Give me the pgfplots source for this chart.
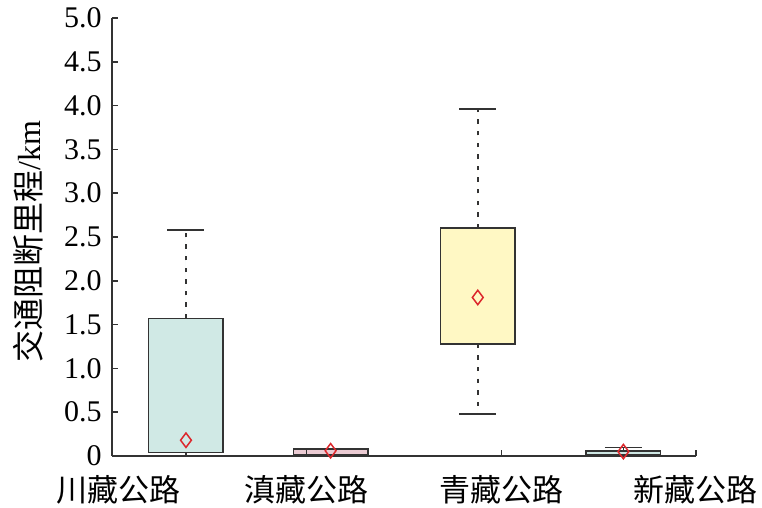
\documentclass[border=0pt]{standalone}
\usepackage{fontspec}
\setmainfont{Liberation Serif}
\newfontfamily\cjk{Noto Sans CJK SC}
\usepackage{pgfplots}
\pgfplotsset{compat=1.18}
\usepgfplotslibrary{statistics}
\definecolor{boxA}{RGB}{208,233,229}
\definecolor{boxB}{RGB}{235,203,211}
\definecolor{boxC}{RGB}{255,248,196}
\definecolor{boxD}{RGB}{206,230,227}
\definecolor{edge}{RGB}{51,51,51}
\definecolor{meanred}{RGB}{220,40,45}
\begin{document}
\begin{tikzpicture}
\useasboundingbox (-56pt,-26pt) rectangle (325pt,228pt);
\begin{axis}[
  at={(0,0)}, anchor=south west,
  scale only axis, width=292pt, height=219pt,
  xmin=0, xmax=3, ymin=0, ymax=5,
  axis x line*=bottom, axis y line*=left,
  axis line style={edge, line width=0.9pt, -},
  tick align=inside, major tick length=3pt,
  tick style={edge, line width=0.8pt},
  xtick={1,2,3},
  xticklabels={滇藏公路,青藏公路,新藏公路},
  extra x ticks={0},
  extra x tick labels={川藏公路},
  extra x tick style={xticklabel style={xshift=3.5pt}},
  xticklabel style={font=\cjk\fontsize{15.5}{18}\selectfont, yshift=-9.5pt, inner sep=0pt},
  ytick={0,0.5,1,1.5,2,2.5,3,3.5,4,4.5,5},
  yticklabels={0,0.5,1.0,1.5,2.0,2.5,3.0,3.5,4.0,4.5,5.0},
  yticklabel style={font=\fontsize{15}{18}\selectfont, inner sep=0pt, xshift=-5pt},
  ylabel={{\cjk 交通阻断里程}/km},
  ylabel style={font=\fontsize{16}{19}\selectfont, at={(axis description cs:-0.144,0.49)}, anchor=center},
  axis on top,
  clip=false,
  boxplot/draw direction=y,
  boxplot/draw/lower whisker/.code={%
    \draw[dash pattern=on 2.2pt off 3.6pt]
      (boxplot cs:\pgfplotsboxplotvalue{lower quartile}) --
      (boxplot cs:\pgfplotsboxplotvalue{lower whisker});
    \draw (boxplot whisker cs:\pgfplotsboxplotvalue{lower whisker},0) --
      (boxplot whisker cs:\pgfplotsboxplotvalue{lower whisker},1);
  },
  boxplot/draw/upper whisker/.code={%
    \draw[dash pattern=on 2.2pt off 3.6pt]
      (boxplot cs:\pgfplotsboxplotvalue{upper quartile}) --
      (boxplot cs:\pgfplotsboxplotvalue{upper whisker});
    \draw (boxplot whisker cs:\pgfplotsboxplotvalue{upper whisker},0) --
      (boxplot whisker cs:\pgfplotsboxplotvalue{upper whisker},1);
  },
]
\addplot[draw=edge, line width=0.8pt, fill=boxA, boxplot prepared={draw position=0.380, lower whisker=0, lower quartile=0.04, median=0.04, upper quartile=1.57, upper whisker=2.58, box extend=0.383, whisker extend=0.19}] coordinates {};
\addplot[draw=edge, line width=0.8pt, fill=boxB, boxplot prepared={draw position=1.123, lower whisker=0, lower quartile=0.01, median=0.01, upper quartile=0.08, upper whisker=0.08, box extend=0.383, whisker extend=0.19}] coordinates {};
\addplot[draw=edge, line width=0.8pt, fill=boxC, boxplot prepared={draw position=1.879, lower whisker=0.48, lower quartile=1.28, median=1.28, upper quartile=2.60, upper whisker=3.96, box extend=0.383, whisker extend=0.19}] coordinates {};
\addplot[draw=edge, line width=0.8pt, fill=boxD, boxplot prepared={draw position=2.627, lower whisker=0, lower quartile=0.01, median=0.01, upper quartile=0.06, upper whisker=0.095, box extend=0.383, whisker extend=0.19}] coordinates {};
\addplot[only marks, mark=diamond, mark size=3.6pt, mark options={draw=meanred, fill=none, line width=0.75pt}] coordinates {(0.380,0.18) (1.123,0.06) (1.879,1.81) (2.627,0.05)};
\end{axis}
\end{tikzpicture}
\end{document}
